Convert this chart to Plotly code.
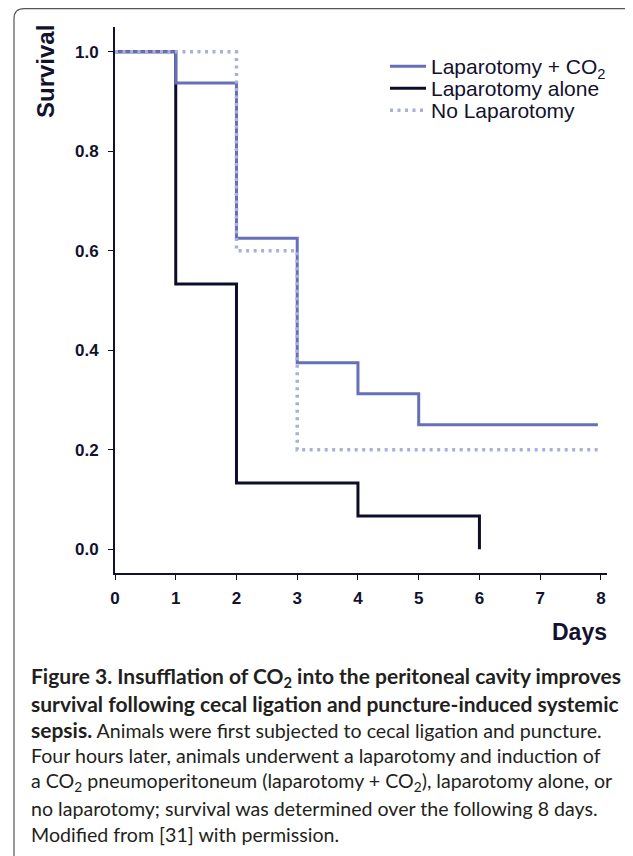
import plotly.graph_objects as go

# ---- data ----
days_co2 = [0, 1, 2, 3, 4, 5, 7.95]
surv_co2 = [1.0, 0.9375, 0.625, 0.375, 0.3125, 0.25, 0.25]

days_alone = [0, 1, 2, 4, 6, 6]
surv_alone = [1.0, 0.533, 0.133, 0.0667, 0.0667, 0.0]

days_none = [0, 2, 3, 7.95]
surv_none = [1.0, 0.6, 0.2, 0.2]

x_ticks = [0, 1, 2, 3, 4, 5, 6, 7, 8]
y_ticks = [0.0, 0.2, 0.4, 0.6, 0.8, 1.0]

names = ["Laparotomy + CO<sub>2</sub>", "Laparotomy alone", "No Laparotomy"]

caption_lines = [
    "<b>Figure 3. Insufflation of CO<sub>2</sub> into the peritoneal cavity improves</b>",
    "<b>survival following cecal ligation and puncture-induced systemic</b>",
    "<span style=\"font-size:21px\"><b>sepsis.</b></span> Animals were first subjected to cecal ligation and puncture.",
    "Four hours later, animals underwent a laparotomy and induction of",
    "a CO<sub>2</sub> pneumoperitoneum (laparotomy + CO<sub>2</sub>), laparotomy alone, or",
    "no laparotomy; survival was determined over the following 8 days.",
    "Modified from [31] with permission.",
]
caption_bold = [True, True, False, False, False, False, False]

# ---- layout geometry (page pixels; the page body adds an 8px offset) ----
OFF = 8
W, H = 633 - OFF, 856 - OFF
L, R, T, B = 115, 607, 27, 573          # plot area in page pixels
NAVY = "#12122e"
AX_FONT = "Liberation Sans, Arial, sans-serif"


def px(x):
    return (x - L) / (R - L)


def py(y):
    return (B - y) / (B - T)


fig = go.Figure()

fig.add_trace(go.Scatter(
    x=days_alone, y=surv_alone, mode="lines", name=names[1], legend="legend2",
    line=dict(color="#0e0e2a", width=3, shape="hv")))
fig.add_trace(go.Scatter(
    x=days_co2, y=surv_co2, mode="lines", name=names[0], legend="legend",
    line=dict(color="#6670b8", width=3, shape="hv")))
fig.add_trace(go.Scatter(
    x=days_none, y=surv_none, mode="lines", name=names[2], legend="legend3",
    line=dict(color="#aaaedd", width=3.5, shape="hv", dash="3px,4.5px")))

leg_rows = [66, 88, 110]
leg_x = 385
leg_common = dict(xanchor="left", yanchor="top", bgcolor="rgba(0,0,0,0)",
                  itemwidth=36,
                  font=dict(family=AX_FONT, size=21, color=NAVY))
fig.update_layout(
    width=W, height=H, autosize=False,
    margin=dict(l=L - OFF, r=W - (R - OFF), t=T - OFF, b=H - (B - OFF), pad=0),
    paper_bgcolor="white", plot_bgcolor="white",
    showlegend=True,
    legend=dict(x=px(leg_x), y=py(leg_rows[0] - 20), **leg_common),
    legend2=dict(x=px(leg_x), y=py(leg_rows[1] - 20), **leg_common),
    legend3=dict(x=px(leg_x), y=py(leg_rows[2] - 20), **leg_common),
    font=dict(family=AX_FONT, color=NAVY),
)

fig.update_xaxes(
    range=[0, 8.1], tickvals=x_ticks, ticktext=[str(v) for v in x_ticks],
    showgrid=False, zeroline=False, showline=True, linecolor=NAVY, linewidth=2,
    ticks="outside", ticklen=5, tickwidth=1, tickcolor=NAVY, ticklabelstandoff=4,
    tickfont=dict(family=AX_FONT, size=17, color=NAVY, weight="bold"),
    fixedrange=True,
)
fig.update_yaxes(
    range=[-0.048, 1.05], tickvals=y_ticks, ticktext=[f"{v:.1f}" for v in y_ticks],
    showgrid=False, zeroline=False, showline=True, linecolor=NAVY, linewidth=2,
    ticks="outside", ticklen=5, tickwidth=1, tickcolor=NAVY, ticklabelstandoff=6,
    tickfont=dict(family=AX_FONT, size=17, color=NAVY, weight="bold"),
    fixedrange=True,
)

ann = []
ann.append(dict(
    text="<b>Survival</b>", textangle=-90, xref="paper", yref="paper",
    x=px(45), y=py(72), xanchor="center", yanchor="middle", showarrow=False,
    font=dict(family=AX_FONT, size=24, color=NAVY)))
ann.append(dict(
    text="<b>Days</b>", xref="paper", yref="paper",
    x=px(609), y=py(632), xanchor="right", yanchor="middle", showarrow=False,
    font=dict(family=AX_FONT, size=23, color=NAVY)))

cap_y0 = 677
cap_dy = 26.3
for i, line in enumerate(caption_lines):
    ann.append(dict(
        text=line, xref="paper", yref="paper",
        x=px(29), y=py(cap_y0 + i * cap_dy), xanchor="left", yanchor="middle",
        showarrow=False, align="left",
        font=dict(family="Lato, Open Sans, sans-serif",
                  size=21 if caption_bold[i] else 19.6, color="#231f20")))
fig.update_layout(annotations=ann)

# rounded border (left and top edges)
x0, y0 = px(14), py(8.6)
x1 = px(640)
yb = py(860)
r_x = 10 / (R - L)
r_y = 10 / (B - T)
path = f"M {x0},{yb} L {x0},{y0 - r_y} Q {x0},{y0} {x0 + r_x},{y0} L {x1},{y0}"
fig.add_shape(type="path", path=path, xref="paper", yref="paper",
              line=dict(color="#555555", width=1.2), layer="below")

fig.write_html("out.html")
